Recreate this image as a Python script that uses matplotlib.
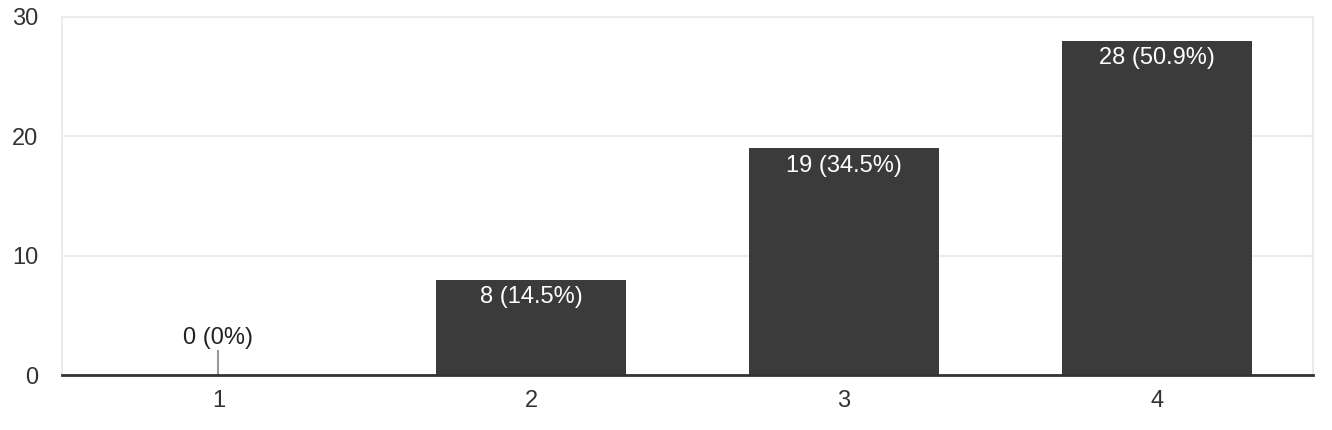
import matplotlib.pyplot as plt

plt.rcParams['font.family'] = ['Liberation Sans', 'DejaVu Sans']

# data
categories = ['1', '2', '3', '4']
counts = [0, 8, 19, 28]
percents = ['0%', '14.5%', '34.5%', '50.9%']

fig = plt.figure(figsize=(13.32, 4.3), dpi=100)
ax = fig.add_axes([0.0466, 0.1279, 0.9391, 0.8326])

x = list(range(1, len(categories) + 1))
ax.bar(x, counts, width=0.607, color='#3b3b3b', zorder=3)

for xi, c, p in zip(x, counts, percents):
    label = f'{c} ({p})'
    if c == 0:
        ax.plot([xi, xi], [0, 2.0], color='#999999', lw=1.5, zorder=3)
        ax.text(xi, 2.2, label, ha='center', va='bottom', fontsize=17, color='#222222')
    else:
        ax.text(xi, c - 0.55, label, ha='center', va='top', fontsize=17, color='white')

ax.set_xlim(0.5, 4.5)
ax.set_ylim(0, 30)
ax.set_xticks(x)
ax.set_xticklabels(categories)
ax.set_yticks([0, 10, 20, 30])
ax.tick_params(axis='both', length=0, labelsize=17, labelcolor='#333333')
ax.tick_params(axis='y', pad=17)
ax.tick_params(axis='x', pad=11)

ax.grid(axis='y', color='#ebebeb', lw=1.5, zorder=0)
for s in ['left', 'right', 'top']:
    ax.spines[s].set_color('#ebebeb')
    ax.spines[s].set_linewidth(1.5)
ax.spines['bottom'].set_color('#333333')
ax.spines['bottom'].set_linewidth(2)
ax.spines['bottom'].set_zorder(4)

fig.savefig('out.png', dpi=100)
